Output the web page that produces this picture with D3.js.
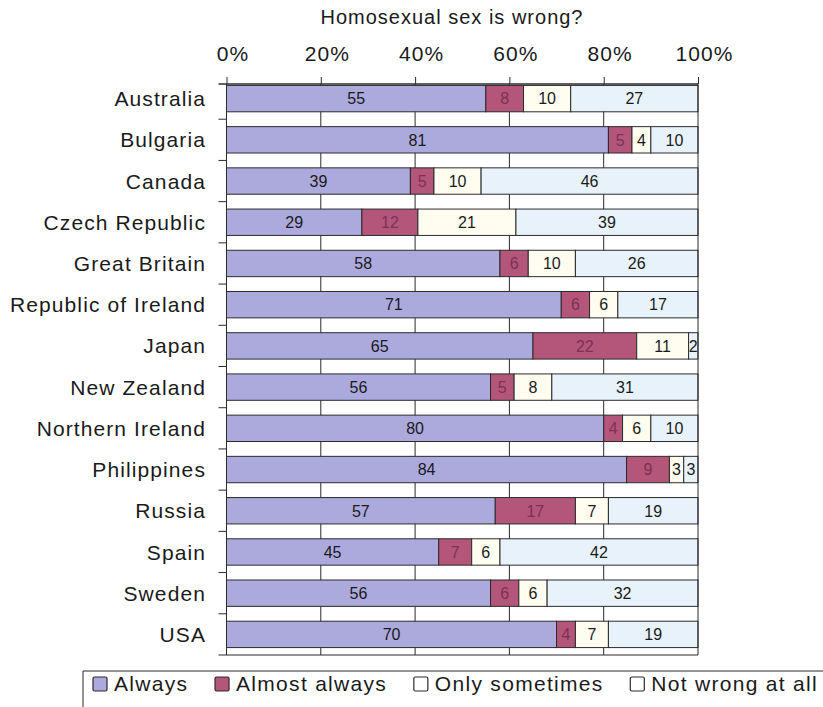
<!DOCTYPE html>
<html>
<head>
<meta charset="utf-8">
<script src="https://cdn.jsdelivr.net/npm/d3@7"></script>
<style>
  html, body { margin: 0; padding: 0; background: #ffffff; }
  svg { display: block; }
  text { font-family: "Liberation Sans", Arial, Helvetica, sans-serif; fill: #1a1a1a; }
</style>
</head>
<body>
<svg id="chart" width="823" height="707"></svg>
<script>
// Survey answers per country: share (%) answering each option
const countries = ["Australia", "Bulgaria", "Canada", "Czech Republic", "Great Britain",
  "Republic of Ireland", "Japan", "New Zealand", "Northern Ireland", "Philippines",
  "Russia", "Spain", "Sweden", "USA"];
const always        = [55, 81, 39, 29, 58, 71, 65, 56, 80, 84, 57, 45, 56, 70];
const almostAlways  = [ 8,  5,  5, 12,  6,  6, 22,  5,  4,  9, 17,  7,  6,  4];
const onlySometimes = [10,  4, 10, 21, 10,  6, 11,  8,  6,  3,  7,  6,  6,  7];
const notWrong      = [27, 10, 46, 39, 26, 17,  2, 31, 10,  3, 19, 42, 32, 19];
const seriesNames = ["Always", "Almost always", "Only sometimes", "Not wrong at all"];
const tickValues = [0, 20, 40, 60, 80, 100];
const title = "Homosexual sex is wrong?";

const fills = ["#aca9dd", "#b3567a", "#fffcf0", "#e8f2fb"];
const labelColors = ["#1a1a1a", "#7e3152", "#1a1a1a", "#1a1a1a"];
const ink = "#2b2b2b";

const svg = d3.select("#chart");

const x = d3.scaleLinear().domain([0, 100]).range([226.5, 698]);
const y = d3.scaleBand().domain(countries).range([78, 655])
  .paddingInner(0.36).paddingOuter(0.18);

const plotTop = 84, plotBottom = 655;

// stacked rows, each normalised to its total so every bar spans 0–100%
const seriesValues = [always, almostAlways, onlySometimes, notWrong];
const rows = countries.map((c, i) => {
  const vals = seriesValues.map(s => s[i]);
  const total = d3.sum(vals);
  let acc = 0;
  return vals.map((v, k) => {
    const seg = { country: c, key: k, value: v, x0: acc / total * 100, x1: (acc + v) / total * 100 };
    acc += v;
    return seg;
  });
});

// vertical gridlines behind the bars
svg.append("g").selectAll("line")
  .data(tickValues.slice(1, -1))
  .join("line")
  .attr("x1", d => x(d)).attr("x2", d => x(d))
  .attr("y1", plotTop).attr("y2", plotBottom)
  .attr("stroke", ink).attr("stroke-width", 1);

// bar segments
const rowG = svg.append("g").selectAll("g")
  .data(rows)
  .join("g");

rowG.selectAll("rect")
  .data(d => d)
  .join("rect")
  .attr("x", d => x(d.x0))
  .attr("width", d => x(d.x1) - x(d.x0))
  .attr("y", d => y(d.country))
  .attr("height", y.bandwidth())
  .attr("fill", d => fills[d.key])
  .attr("stroke", ink)
  .attr("stroke-width", 1);

rowG.selectAll("text")
  .data(d => d)
  .join("text")
  .attr("x", d => (x(d.x0) + x(d.x1)) / 2)
  .attr("y", d => y(d.country) + y.bandwidth() / 2)
  .attr("dy", "0.36em")
  .attr("text-anchor", "middle")
  .style("font-size", "16px")
  .style("fill", d => labelColors[d.key])
  .text(d => d.value);

// frame: left axis, right edge, bottom edge
svg.append("line")
  .attr("x1", x(0)).attr("x2", x(0)).attr("y1", plotTop).attr("y2", plotBottom)
  .attr("stroke", ink);
svg.append("line")
  .attr("x1", x(100)).attr("x2", x(100)).attr("y1", plotTop).attr("y2", plotBottom)
  .attr("stroke", ink);
svg.append("line")
  .attr("x1", x(0) - 8).attr("x2", x(100)).attr("y1", plotBottom).attr("y2", plotBottom)
  .attr("stroke", ink);

// category separators on the left axis
const step = y.step();
svg.append("g").selectAll("line")
  .data(countries.slice(1))
  .join("line")
  .attr("x1", x(0) - 8).attr("x2", x(0))
  .attr("y1", d => y(d) - step * y.paddingInner() / 2)
  .attr("y2", d => y(d) - step * y.paddingInner() / 2)
  .attr("stroke", ink);

// category labels
svg.append("g").selectAll("text")
  .data(countries)
  .join("text")
  .attr("x", 206)
  .attr("y", d => y(d) + y.bandwidth() / 2)
  .attr("dy", "0.36em")
  .attr("text-anchor", "end")
  .style("font-size", "21px")
  .style("letter-spacing", "1.1px")
  .text(d => d);

// top percentage axis
const axis = svg.append("g")
  .attr("transform", `translate(0,${plotTop})`)
  .call(d3.axisTop(x).tickValues(tickValues).tickFormat(d => d + "%").tickSize(7).tickPadding(16));
axis.select(".domain").remove();
axis.selectAll(".tick line").attr("stroke", ink);
axis.selectAll(".tick text")
  .style("font-size", "21px")
  .style("letter-spacing", "1.1px")
  .style("font-family", "\"Liberation Sans\", Arial, Helvetica, sans-serif")
  .attr("fill", "#1a1a1a")
  .attr("dx", 6);
svg.append("line")
  .attr("x1", x(0) - 8).attr("x2", x(100)).attr("y1", plotTop).attr("y2", plotTop)
  .attr("stroke", ink).attr("stroke-width", 1.5);

// title
svg.append("text")
  .attr("x", 452).attr("y", 24)
  .attr("text-anchor", "middle")
  .style("font-size", "20px")
  .style("letter-spacing", "1px")
  .text(title);

// legend
const legendTop = 671;
svg.append("line")
  .attr("x1", 83).attr("x2", 823).attr("y1", legendTop).attr("y2", legendTop)
  .attr("stroke", ink);
svg.append("line")
  .attr("x1", 83).attr("x2", 83).attr("y1", legendTop).attr("y2", 707)
  .attr("stroke", ink);

const legendG = svg.append("g");
const items = seriesNames.map((name, k) => {
  const g = legendG.append("g");
  g.append("rect")
    .attr("x", 0).attr("y", 677).attr("width", 14).attr("height", 14)
    .attr("rx", 1.5)
    .attr("fill", k < 2 ? fills[k] : "#ffffff")
    .attr("stroke", ink).attr("stroke-width", 1.2);
  const t = g.append("text")
    .attr("x", 21).attr("y", 691)
    .style("font-size", "21px")
    .style("letter-spacing", "1.3px")
    .text(name);
  return { g, w: 21 + t.node().getComputedTextLength() };
});
// spread the items between the left rule and the right edge
const startX = 93, endX = 818;
const gap = (endX - startX - d3.sum(items, d => d.w)) / (items.length - 1);
let lx = startX;
items.forEach(it => {
  it.g.attr("transform", `translate(${lx},0)`);
  lx += it.w + gap;
});
</script>
</body>
</html>
